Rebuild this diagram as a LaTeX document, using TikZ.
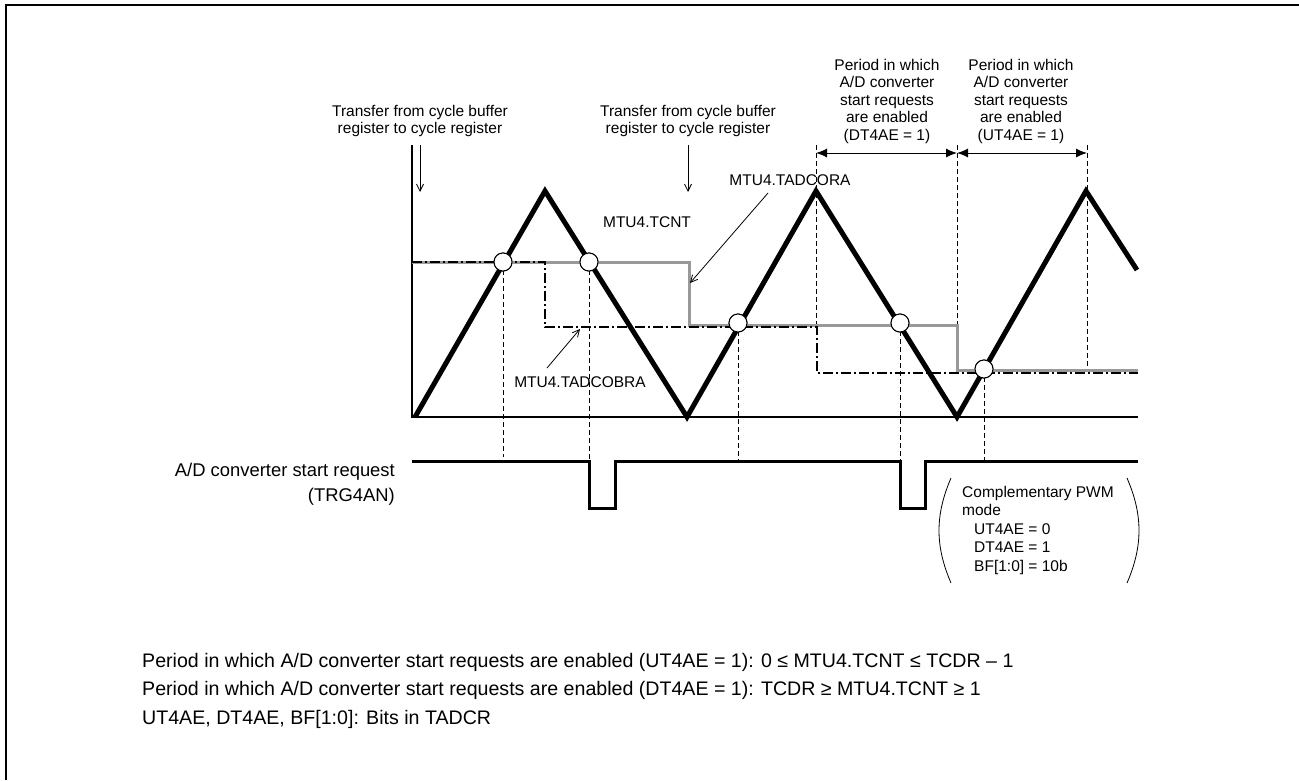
\documentclass[tikz,border=0pt]{standalone}
\usepackage{fontspec}
\setmainfont{Liberation Sans}
\usetikzlibrary{arrows.meta}
\begin{document}
\begin{tikzpicture}[x=1pt, y=-1pt, line join=miter,
  every node/.style={font=\fontsize{15.5}{17.5}\selectfont, inner sep=0pt},
  bigtext/.style={font=\fontsize{18.4}{24.5}\selectfont},
  notetext/.style={font=\fontsize{19.6}{24}\selectfont},
  wave/.style={line width=5pt},
  guide/.style={line width=0.8pt, dash pattern=on 5pt off 3pt},
  cntreg/.style={line width=3pt, black!40},
  cmpreg/.style={line width=2pt, dash pattern=on 10pt off 3pt on 2pt off 3pt},
  hit/.style={circle, draw, fill=white, line width=1pt, minimum size=18pt},
  note/.style={align=center},
  pointer/.style={-{Straight Barb[length=7pt, width=7pt]}, line width=0.8pt},
  span/.style={{Latex[length=11pt, width=9pt]}-{Latex[length=11pt, width=9pt]}, line width=1pt}]
  \useasboundingbox (0,0) rectangle (1299,780);
  % Frame
  \draw[line width=2pt] (6,780) -- (6,5) -- (1299,5);

  % Axes
  \draw[line width=1.2pt] (412,145) -- (412,417) -- (1138,417);

  % Guides from the hit points down to TRG4AN
  \node[hit] (c1) at (503,262) {};
  \node[hit] (c2) at (589,262) {};
  \node[hit] (c3) at (738,323) {};
  \node[hit] (c4) at (900,323) {};
  \node[hit] (c5) at (984,369) {};
  \draw[guide] (c1.center) -- (503,457);
  \draw[guide] (c2.center) -- (589,461);
  \draw[guide] (c3.center) -- (738,461);
  \draw[guide] (c4.center) -- (900,461);
  \draw[guide] (c5.center) -- (984,461);

  % Guides marking the enabled periods
  \coordinate (p1) at (816,145);
  \coordinate (p2) at (957,145);
  \coordinate (p3) at (1087,145);
  \draw[guide] (p1) -- (816,325);
  \draw[guide] (p2) -- (957,325);
  \draw[guide] (p3) -- (1087,370);
  \draw[span] (816,153) -- (957,153);
  \draw[span] (957,153) -- (1087,153);
  \node[note] (dtper) at (887,101) {Period in which\\A/D converter\\start requests\\are enabled\\(DT4AE = 1)};
  \node[note] (utper) at (1021,101) {Period in which\\A/D converter\\start requests\\are enabled\\(UT4AE = 1)};

  % Compare registers
  \draw[cntreg] (412,262) -- (689,262) -- (689,325) -- (957,325) -- (957,370) -- (1138,370);
  \draw[cmpreg] (412,262) -- (545,262) -- (545,327) -- (817,327) -- (817,373) -- (1138,373);

  % MTU4.TCNT
  \draw[wave] (415,417) -- (545,191) -- (687,417) -- (816,191) -- (957,417) -- (1086,191) -- (1137,270);
  \foreach \c in {c1,c2,c3,c4,c5}
    \node[hit] at (\c) {};

  % Labels
  \node[note] (xfer1) at (420,121) {Transfer from cycle buffer\\register to cycle register};
  \node[note] (xfer2) at (688,121) {Transfer from cycle buffer\\register to cycle register};
  \coordinate (x1a) at (420,145);
  \coordinate (x1b) at (420,192);
  \coordinate (x2a) at (688,145);
  \coordinate (x2b) at (688,192);
  \draw[pointer] (x1a) -- (x1b);
  \draw[pointer] (x2a) -- (x2b);

  \node (tcnt) at (647,222) {MTU4.TCNT};
  \node (tadcora) at (790,180) {MTU4.TADCORA};
  \node (tadcobra) at (580,382) {MTU4.TADCOBRA};
  \coordinate (ora) at (690,283);
  \coordinate (obra) at (580,329);
  \draw[pointer] (768,193) -- (ora);
  \draw[pointer] (547,368) -- (obra);

  % TRG4AN
  \node[bigtext, align=right, anchor=east] (trg) at (395,484) {A/D converter start request\\(TRG4AN)};
  \draw[line width=3pt] (412,461) -- (589,461) -- (589,508) -- (615,508) -- (615,461)
    -- (900,461) -- (900,508) -- (925,508) -- (925,461) -- (1138,461);

  % Mode
  \node[font=\fontsize{15.5}{18.5}\selectfont, align=left, anchor=north west] (mode) at (962,486)
    {Complementary PWM\\mode\\\hspace*{12pt}UT4AE = 0\\\hspace*{12pt}DT4AE = 1\\\hspace*{12pt}BF[1:0] = 10b};
  \draw[line width=0.8pt] (951,478) .. controls (935,515) and (935,546) .. (951,583);
  \draw[line width=0.8pt] (1127,478) .. controls (1143,515) and (1143,546) .. (1127,583);

  % Notes
  \node[notetext, anchor=west] (n1) at (142,662) {Period in which A/D converter start requests are enabled (UT4AE = 1): 0 ≤ MTU4.TCNT ≤ TCDR – 1};
  \node[notetext, anchor=west] (n2) at (142,690) {Period in which A/D converter start requests are enabled (DT4AE = 1): TCDR ≥ MTU4.TCNT ≥ 1};
  \node[notetext, anchor=west] (n3) at (142,719) {UT4AE, DT4AE, BF[1:0]: Bits in TADCR};
\end{tikzpicture}
\end{document}
